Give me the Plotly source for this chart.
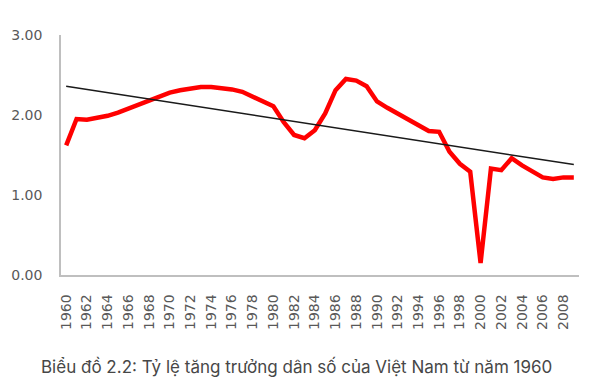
import plotly.graph_objects as go

years = list(range(1960, 2010))
growth = [1.62, 1.95, 1.94, 1.96, 1.99, 2.03, 2.08, 2.14, 2.19, 2.24,
          2.28, 2.31, 2.33, 2.35, 2.35, 2.34, 2.32, 2.29, 2.23, 2.17,
          2.11, 1.91, 1.75, 1.71, 1.81, 2.02, 2.31, 2.45, 2.43, 2.36,
          2.17, 2.09, 2.02, 1.95, 1.87, 1.80, 1.79, 1.54, 1.39, 1.29,
          0.15, 1.33, 1.31, 1.46, 1.37, 1.29, 1.22, 1.20, 1.22, 1.22]
trend_years = [1960, 2009]
trend_values = [2.36, 1.38]
tick_years = list(range(1960, 2009, 2))
tick_labels = [str(y) for y in tick_years]
y_ticks = [0, 1, 2, 3]
caption = "Biểu đồ 2.2: Tỷ lệ tăng trưởng dân số của Việt Nam từ năm 1960"

fig = go.Figure()
fig.add_trace(go.Scatter(x=years, y=growth, mode="lines",
                         line=dict(color="#ff0000", width=4.5),
                         showlegend=False, hoverinfo="skip"))
fig.add_trace(go.Scatter(x=trend_years, y=trend_values, mode="lines",
                         line=dict(color="#1a1a1a", width=1.5),
                         showlegend=False, hoverinfo="skip"))

tick_font = dict(family="DejaVu Sans", size=14, color="#595959")
fig.update_layout(
    width=590, height=387,
    margin=dict(l=59, r=11, t=35, b=112),
    paper_bgcolor="white", plot_bgcolor="white",
    xaxis=dict(range=[1959.5, 2009.5], tickmode="array", tickvals=tick_years,
               ticktext=tick_labels, tickangle=-90, tickfont=tick_font,
               showgrid=False, zeroline=False, showline=True,
               linecolor="#bfbfbf", linewidth=1.5, ticks="",
               ticklabelstandoff=12, fixedrange=True),
    yaxis=dict(range=[0, 3], tickmode="array", tickvals=y_ticks,
               tickformat=".2f", tickfont=tick_font,
               showgrid=False, zeroline=False, showline=True,
               linecolor="#bfbfbf", linewidth=1.5, ticks="",
               ticklabelstandoff=14, fixedrange=True),
    annotations=[dict(text=caption, xref="paper", yref="paper",
                      x=(295 - 59) / 520, y=0, xanchor="center", yanchor="middle",
                      yshift=-91, showarrow=False,
                      font=dict(family="Inter", size=17, color="#474747"))],
)
fig.write_html("out.html", config={"displayModeBar": False},
               post_script="document.body.style.margin='0px';")
